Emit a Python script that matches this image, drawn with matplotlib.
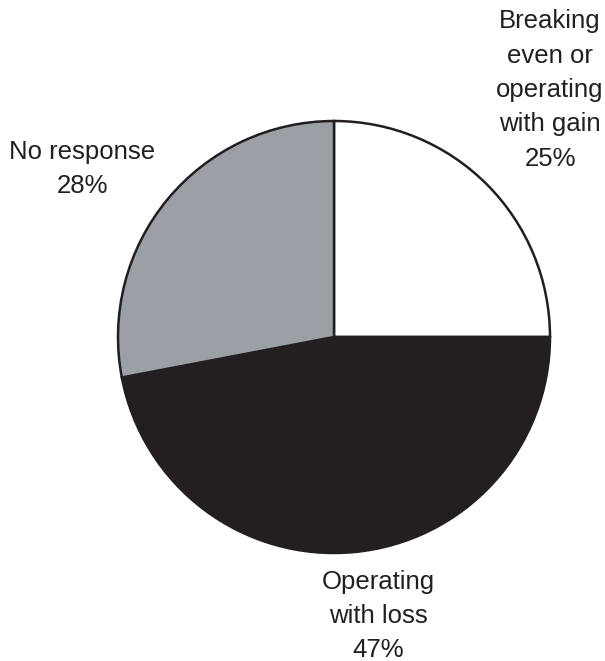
import matplotlib.pyplot as plt

labels = ['Breaking\neven or\noperating\nwith gain\n25%', 'Operating\nwith loss\n47%', 'No response\n28%']
values = [25, 47, 28]
colors = ['#ffffff', '#231f20', '#9ba0a6']

plt.rcParams['font.family'] = ['Liberation Sans', 'DejaVu Sans']

W, H = 605, 661
fig = plt.figure(figsize=(W / 100, H / 100), dpi=100)
ax = fig.add_axes([0, 0, 1, 1])

wedges, _ = ax.pie(values, colors=colors, startangle=90, counterclock=False,
                   center=(334, H - 337), radius=216, frame=True,
                   wedgeprops=dict(edgecolor='#231f20', linewidth=1.8))

ax.set_xlim(0, W)
ax.set_ylim(0, H)
ax.set_aspect('equal')
ax.axis('off')

txt = dict(fontsize=18.5, color='#231f20', ha='center', va='center', linespacing=1.55)
ax.text(550, H - 90, labels[0], **txt)
ax.text(378, H - 616, labels[1], **txt)
ax.text(82, H - 169, labels[2], **txt)

fig.savefig('out.png', dpi=100)
